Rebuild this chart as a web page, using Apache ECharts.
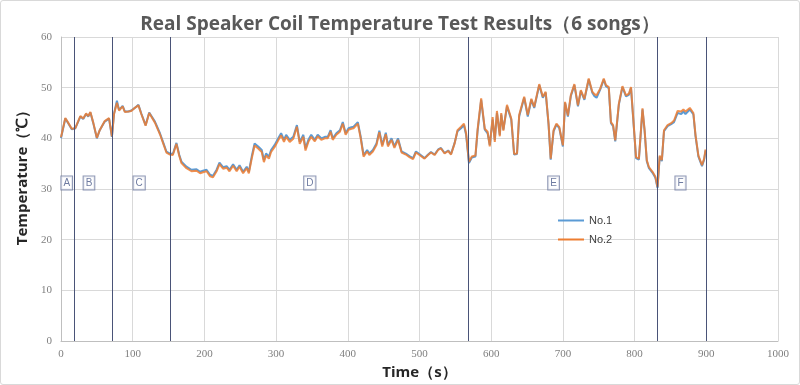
<!DOCTYPE html>
<html>
<head>
<meta charset="utf-8">
<script src="https://cdn.jsdelivr.net/npm/echarts@6/dist/echarts.min.js"></script>
<style>
html,body{margin:0;padding:0;background:#fff;}
#frame{position:absolute;left:0;top:0;width:798px;height:383px;border:1px solid #d9d9d9;border-radius:3px;}
#chart{position:absolute;left:0;top:0;width:800px;height:385px;}
</style>
</head>
<body>
<div id="frame"></div>
<div id="chart"></div>
<script>
const titleText = 'Real Speaker Coil Temperature Test Results（6 songs）';
const xName = 'Time（s）';
const yName = 'Temperature（℃）';
const seriesNames = ['No.1', 'No.2'];
const xTicks = {min: 0, max: 1000, interval: 100};
const yTicks = {min: 0, max: 60, interval: 10};
const songBounds = [18, 71, 152, 568, 831, 900];
const songLabels = ['A', 'B', 'C', 'D', 'E', 'F'];
const songLabelX = [8, 39, 109, 347, 687, 864];
const songLabelY = [31.2, 31.2, 31.2, 31.2, 31.2, 31.2];

const times = [0,6,10,15,20,24,27,31,35,38,41,45,50,54,61,67,71,74,78,81,86,89,94,98,102,108,112,118,123,131,138,143,147,152,156,161,165,168,175,182,189,194,198,203,208,212,217,221,226,231,235,240,245,249,254,259,262,266,270,275,280,283,286,290,293,298,303,307,311,314,319,324,329,333,338,341,345,349,354,358,363,368,372,376,379,384,389,393,397,401,405,408,414,418,422,427,430,435,440,444,448,453,456,461,465,470,475,481,486,491,495,499,507,512,516,521,526,530,535,540,544,549,553,558,562,565,569,573,578,581,586,591,595,598,602,605,608,612,614,617,622,628,632,636,639,646,651,656,660,667,672,676,680,683,687,691,695,700,703,707,711,716,721,725,730,736,741,744,747,752,757,760,764,767,770,773,778,783,788,792,795,798,802,806,811,814,817,820,825,829,832,835,838,841,846,851,855,860,865,868,871,877,882,885,889,894,897,899];

const no1 = [40.0,43.9,43.0,41.8,42.0,43.3,44.3,43.8,44.8,44.3,45.1,43.0,40.0,41.6,43.3,43.9,40.3,44.9,47.4,45.6,46.4,45.3,45.3,45.5,45.9,46.6,44.9,42.6,45.1,43.3,41.0,39.0,37.4,37.0,36.9,39.1,36.7,35.4,34.4,33.8,33.9,33.4,33.6,33.8,32.8,32.6,33.8,35.2,34.3,34.5,33.8,34.9,33.8,34.7,33.4,34.4,33.4,36.4,39.0,38.4,37.7,35.7,37.0,36.4,37.7,38.7,40.0,41.0,39.7,40.7,39.7,40.3,42.6,39.3,40.7,38.0,39.7,40.7,39.7,40.7,40.0,40.3,40.3,41.6,40.0,41.0,41.6,43.2,41.0,42.0,42.2,42.3,43.2,40.3,36.7,37.7,37.0,37.7,39.0,41.5,38.7,41.1,38.7,40.0,38.4,40.0,37.4,37.0,36.5,36.1,37.4,37.0,36.1,36.8,37.3,36.8,37.8,38.1,37.1,37.6,36.9,39.1,41.4,42.0,42.6,40.7,35.1,36.2,36.4,41.4,47.6,41.7,41.0,38.7,43.7,39.7,45.0,40.7,44.7,41.7,46.3,43.7,36.8,36.9,44.3,48.0,44.3,47.6,46.0,50.5,48.0,49.0,42.7,35.8,41.4,42.7,42.0,38.4,47.0,44.3,48.3,50.5,46.3,49.3,47.6,51.6,49.0,48.3,48.0,49.6,51.6,50.3,49.9,43.0,42.4,39.4,46.6,50.1,48.3,48.6,49.9,44.0,36.1,35.8,45.7,41.4,35.5,34.1,33.2,32.2,30.2,36.4,35.5,41.4,42.4,42.8,43.2,45.0,44.8,45.3,44.8,45.7,44.7,40.4,36.4,34.5,35.8,37.6];

const no2 = [40.2,44.0,43.1,41.9,42.0,43.4,44.4,43.9,44.9,44.4,45.2,43.1,40.1,41.6,43.4,44.0,40.4,44.8,47.0,45.5,46.3,45.2,45.3,45.4,45.9,46.5,44.8,42.5,45.0,43.1,40.8,38.8,37.2,36.8,36.7,38.9,36.5,35.1,34.1,33.5,33.6,33.1,33.3,33.5,32.5,32.3,33.5,34.9,34.0,34.2,33.5,34.6,33.5,34.4,33.1,34.1,33.1,36.0,38.6,38.0,37.3,35.3,36.6,36.0,37.3,38.3,39.6,40.6,39.3,40.3,39.3,39.9,42.3,38.9,40.3,37.6,39.3,40.3,39.4,40.4,39.7,40.0,40.0,41.3,39.7,40.7,41.3,42.9,40.7,41.7,41.9,42.0,42.9,40.0,36.4,37.4,36.7,37.4,38.7,41.2,38.4,40.8,38.4,39.7,38.1,39.7,37.2,36.8,36.3,35.9,37.2,36.8,36.0,36.7,37.2,36.7,37.7,38.0,37.0,37.5,36.8,39.0,41.6,42.3,42.9,41.0,35.4,36.4,36.6,41.7,47.9,41.9,41.3,38.4,44.2,39.3,45.4,40.4,45.0,41.5,46.6,43.9,36.9,37.0,44.6,48.2,44.6,47.8,46.2,50.7,48.2,49.2,42.9,36.0,41.6,42.9,42.2,38.6,47.2,44.5,48.5,50.7,46.5,49.5,47.8,51.8,49.2,48.7,48.5,49.8,51.8,50.5,50.1,43.2,42.6,39.6,46.8,50.3,48.5,48.8,50.1,44.2,36.3,36.0,45.9,41.6,35.7,34.3,33.4,32.4,30.4,36.6,35.7,41.6,42.6,43.0,43.5,45.4,45.3,45.7,45.3,46.0,45.0,40.6,36.6,34.7,36.0,37.8];

const chart = echarts.init(document.getElementById('chart'), null, {renderer: 'canvas'});
const tickFont = {color: '#7f7f7f', fontSize: 11, fontFamily: 'Liberation Serif'};

chart.setOption({
  animation: false,
  backgroundColor: 'transparent',
  title: {
    text: titleText,
    left: 'center',
    top: 10,
    textStyle: {fontFamily: 'Open Sans', fontWeight: 'bold', fontSize: 19, color: '#595959'}
  },
  legend: {
    data: seriesNames,
    orient: 'vertical',
    left: 553,
    top: 210,
    itemGap: 8,
    itemWidth: 26,
    itemHeight: 14,
    icon: 'path://M0,6 L26,6 L26,8 L0,8 Z',
    textStyle: {color: '#404040', fontSize: 11, fontFamily: 'Liberation Sans'}
  },
  grid: {left: 61, right: 22, top: 37, bottom: 44, containLabel: false},
  xAxis: {
    type: 'value',
    min: xTicks.min, max: xTicks.max, interval: xTicks.interval,
    name: xName, nameLocation: 'middle', nameGap: 24,
    nameTextStyle: {fontFamily: 'Open Sans', fontWeight: 'bold', fontSize: 15, color: '#262626'},
    axisLine: {show: true, lineStyle: {color: '#bfbfbf'}},
    axisTick: {show: false},
    axisLabel: Object.assign({margin: 8, formatter: v => String(v)}, tickFont),
    splitLine: {show: true, lineStyle: {color: '#d9d9d9'}}
  },
  yAxis: {
    type: 'value',
    min: yTicks.min, max: yTicks.max, interval: yTicks.interval,
    name: yName, nameLocation: 'middle', nameGap: 31, nameRotate: 90,
    nameTextStyle: {fontFamily: 'Open Sans', fontWeight: 'bold', fontSize: 15, color: '#262626', padding: [0, 0, 0, 30]},
    axisLine: {show: true, lineStyle: {color: '#bfbfbf'}},
    axisTick: {show: false},
    axisLabel: Object.assign({margin: 9}, tickFont),
    splitLine: {show: true, lineStyle: {color: '#d9d9d9'}}
  },
  series: [
    {
      name: seriesNames[0],
      type: 'line',
      data: times.map((t, i) => [t, no1[i]]),
      showSymbol: false,
      symbol: 'none',
      lineStyle: {color: '#5b9bd5', width: 2},
      itemStyle: {color: '#5b9bd5'},
      z: 3,
      markLine: {
        silent: true,
        symbol: ['none', 'none'],
        label: {show: false},
        lineStyle: {color: '#4a5478', width: 1, type: 'solid'},
        data: songBounds.map(v => ({xAxis: v}))
      }
    },
    {
      name: seriesNames[1],
      type: 'line',
      data: times.map((t, i) => [t, no2[i]]),
      showSymbol: false,
      symbol: 'none',
      lineStyle: {color: '#ed7d31', width: 2, opacity: 0.85},
      itemStyle: {color: '#ed7d31'},
      z: 4
    },
    {
      name: 'songs',
      type: 'scatter',
      symbolSize: 0,
      silent: true,
      data: songLabels.map((s, i) => ({value: [songLabelX[i], songLabelY[i]], name: s})),
      label: {
        show: true,
        position: 'inside',
        formatter: p => p.name,
        color: '#4a5a8a',
        fontSize: 10,
        fontFamily: 'Liberation Sans',
        backgroundColor: '#ffffff',
        borderColor: '#6f7ba0',
        borderWidth: 1,
        padding: [2, 2, 1, 2]
      },
      z: 5
    }
  ]
});
</script>
</body>
</html>
